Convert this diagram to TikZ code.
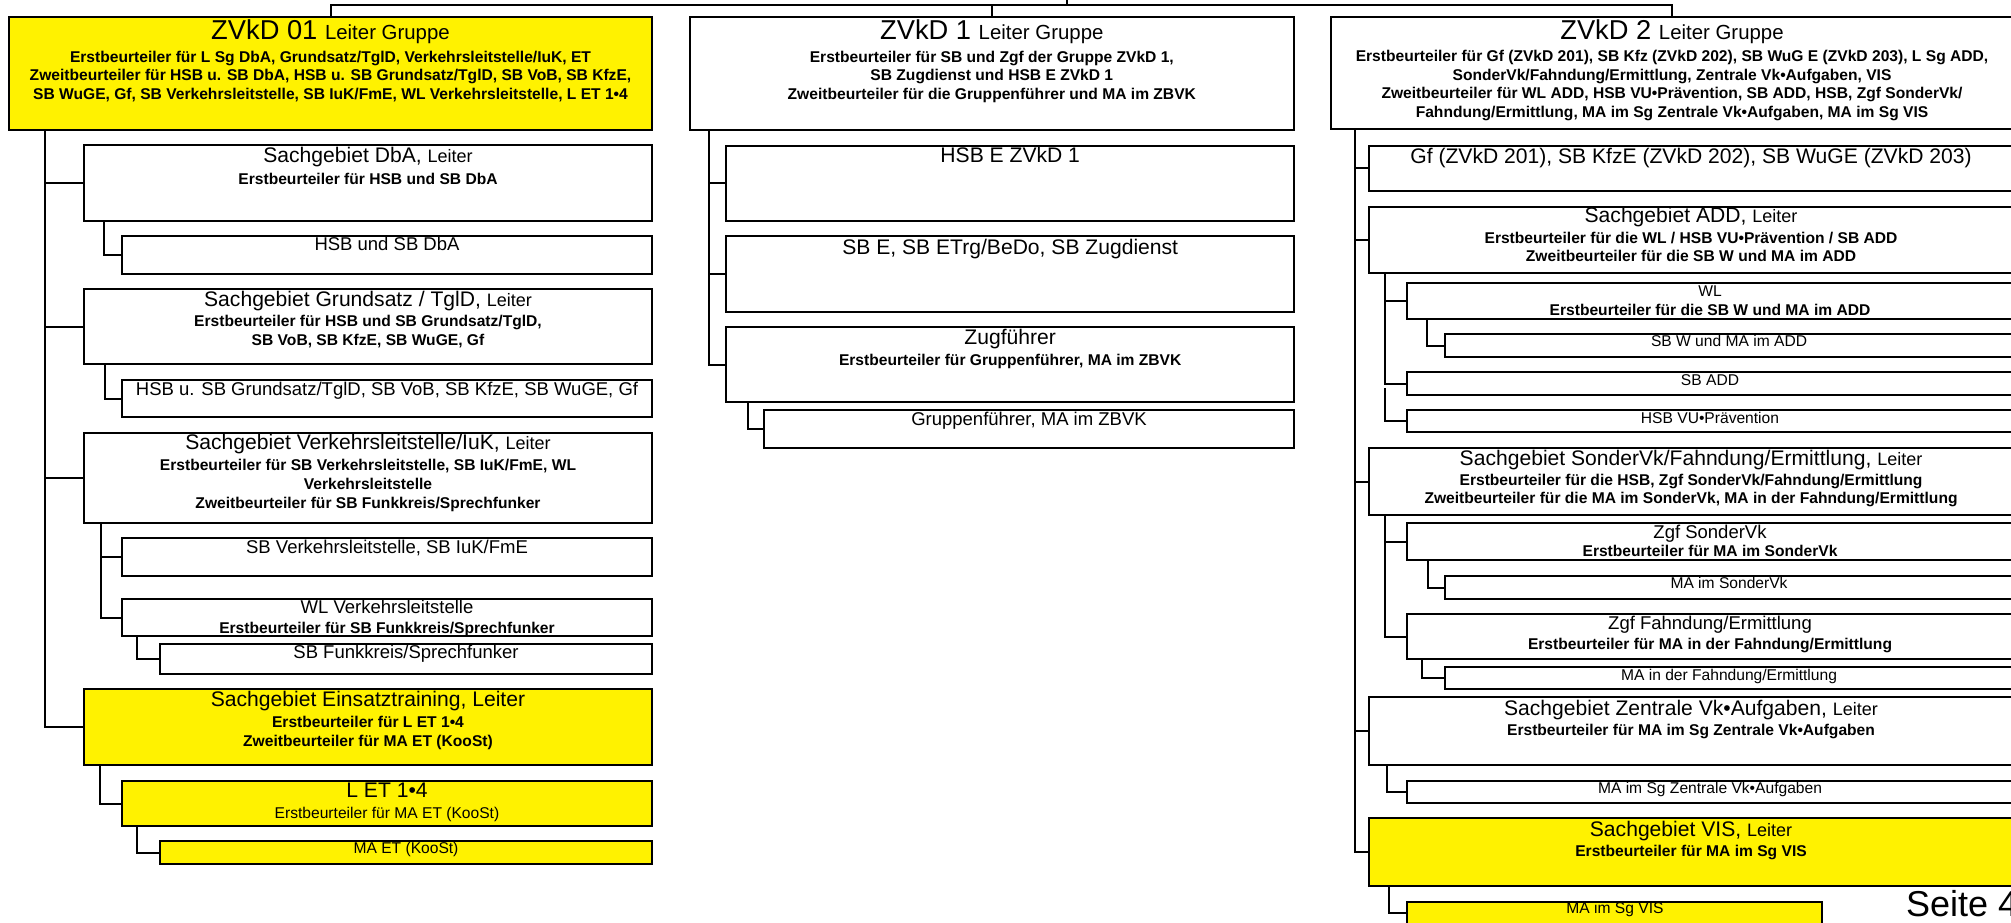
\documentclass[tikz,border=0pt]{standalone}
\usepackage{fontspec}
\setmainfont{Liberation Sans}
\usetikzlibrary{fit,calc}
\newcommand{\szBig}{\fontsize{13.65}{16}\selectfont}
\newcommand{\szGrp}{\fontsize{10.2}{12}\selectfont}
\newcommand{\szSg}{\fontsize{10.55}{12.5}\selectfont}
\newcommand{\szLt}{\fontsize{9}{11}\selectfont}
\newcommand{\szMed}{\fontsize{9.25}{11}\selectfont}
\newcommand{\szSm}{\fontsize{7.8}{9.3}\selectfont}
\newcommand{\szBd}{\fontsize{7.8}{9.3}\selectfont\bfseries}
\newcommand{\szPg}{\fontsize{18}{21}\selectfont}
\tikzset{
  box/.style={draw, line width=1pt, inner sep=0pt, outer sep=0pt},
  ybox/.style={box, fill=yellow},
  conn/.style={line width=1pt},
  txt/.style={anchor=base, inner sep=0pt, outer sep=0pt},
}
% \OrgBox{name}{x1}{y1}{x2}{y2}{style}
\newcommand{\OrgBox}[6]{\node[#6, fit={(#2,#3) (#4,#5)}] (#1) {};}
% \Tln{name}{x}{y}{text}
\newcommand{\Tln}[4]{\node[txt] (#1) at (#2,#3) {#4};}
\begin{document}
\begin{tikzpicture}[x=0.5pt, y=-0.5pt]
\useasboundingbox (0,0) rectangle (2011,922);

% ---------------- boxes ----------------
% column 1
\OrgBox{g01}{9}{17}{652}{130}{ybox}
\OrgBox{dba}{84}{145}{652}{221}{box}
\OrgBox{dbam}{122}{236}{652}{274}{box}
\OrgBox{grund}{84}{289}{652}{364}{box}
\OrgBox{grundm}{122}{380}{652}{417}{box}
\OrgBox{vlz}{84}{433}{652}{523}{box}
\OrgBox{vlzm}{122}{538}{652}{576}{box}
\OrgBox{wlv}{122}{599}{652}{636}{box}
\OrgBox{funk}{160}{644}{652}{674}{box}
\OrgBox{et}{84}{689}{652}{765}{ybox}
\OrgBox{let}{122}{781}{652}{826}{ybox}
\OrgBox{maet}{160}{841}{652}{864}{ybox}
% column 2
\OrgBox{g1}{689.5}{17}{1294}{130}{box}
\OrgBox{hsbe}{726.4}{145.7}{1294}{221}{box}
\OrgBox{sbe}{726.4}{236}{1294}{311.7}{box}
\OrgBox{zugf}{726.4}{326.7}{1294}{402.3}{box}
\OrgBox{gruppf}{764}{410}{1294}{447.7}{box}
% column 3
\OrgBox{g2}{1331}{17}{2013}{129.3}{box}
\OrgBox{gf}{1369.4}{145.7}{2013}{190.7}{box}
\OrgBox{add}{1369.4}{206.7}{2013}{273.3}{box}
\OrgBox{wl}{1407.3}{282.7}{2013}{319}{box}
\OrgBox{sbw}{1445.2}{334.3}{2013}{356.7}{box}
\OrgBox{sbadd}{1407.3}{372}{2013}{395}{box}
\OrgBox{hsbvu}{1407.3}{410}{2013}{432.3}{box}
\OrgBox{sonder}{1369.4}{448.3}{2013}{515}{box}
\OrgBox{zgfs}{1407.3}{523.3}{2013}{560}{box}
\OrgBox{masv}{1445.2}{576}{2013}{599}{box}
\OrgBox{zgff}{1407.3}{614}{2013}{659.3}{box}
\OrgBox{mafe}{1445.2}{667.3}{2013}{689.3}{box}
\OrgBox{zentral}{1369.4}{697.3}{2013}{765}{box}
\OrgBox{mazent}{1407.3}{780.7}{2013}{802.7}{box}
\OrgBox{vis}{1369.4}{818.3}{2013}{886}{ybox}
\OrgBox{mavis}{1407.3}{901.7}{1822.4}{924}{ybox}

% ---------------- connectors ----------------
\coordinate (top) at (1067,0);
\coordinate (bus) at (1067,4.5);
\draw[conn] (top) -- (bus);
\draw[conn] (bus) -| (g01.north);
\draw[conn] (bus) -| (g1.north);
\draw[conn] (bus) -| (g2.north);
% column 1
\foreach \c in {dba,grund,vlz,et}
  \draw[conn] ($(g01.south west)+(36,0)$) |- (\c.west);
\draw[conn] ($(dba.south west)+(20,0)$) |- (dbam.west);
\draw[conn] ($(grund.south west)+(21,0)$) |- (grundm.west);
\draw[conn] ($(vlz.south west)+(17,0)$) |- (vlzm.west);
\draw[conn] ($(vlz.south west)+(17,0)$) |- (wlv.west);
\draw[conn] ($(wlv.south west)+(15,0)$) |- (funk.west);
\draw[conn] ($(et.south west)+(16,0)$) |- (let.west);
\draw[conn] ($(let.south west)+(15,0)$) |- (maet.west);
% column 2
\foreach \c in {hsbe,sbe,zugf}
  \draw[conn] ($(g1.south west)+(19.5,0)$) |- (\c.west);
\draw[conn] ($(zugf.south west)+(21.6,0)$) |- (gruppf.west);
% column 3
\foreach \c in {gf,add,sonder,zentral,vis}
  \draw[conn] ($(g2.south west)+(23.5,0)$) |- (\c.west);
\draw[conn] ($(add.south west)+(15.8,0)$) |- (wl.west);
\draw[conn] ($(add.south west)+(15.8,0)$) |- (sbadd.west);
\coordinate (addgap) at (1385.2,388);
\draw[conn] (addgap) |- (hsbvu.west);
\draw[conn] ($(wl.south west)+(19.3,0)$) |- (sbw.west);
\draw[conn] ($(sonder.south west)+(15.8,0)$) |- (zgfs.west);
\draw[conn] ($(sonder.south west)+(15.8,0)$) |- (zgff.west);
\draw[conn] ($(zgfs.south west)+(20.7,0)$) |- (masv.west);
\draw[conn] ($(zgff.south west)+(14.9,0)$) |- (mafe.west);
\draw[conn] ($(zentral.south west)+(17.6,0)$) |- (mazent.west);
\draw[conn] ($(vis.south west)+(19.8,0)$) |- (mavis.west);

% ---------------- texts: column 1 ----------------
\Tln{t01a}{330.5}{39.5}{\szBig ZVkD 01 \szGrp Leiter Gruppe}
\Tln{t01b}{330.5}{62}{\szBd Erstbeurteiler für L Sg DbA, Grundsatz/TglD, Verkehrsleitstelle/IuK, ET}
\Tln{t01c}{330.5}{80.6}{\szBd Zweitbeurteiler für HSB u. SB DbA, HSB u. SB Grundsatz/TglD, SB VoB, SB KfzE,}
\Tln{t01d}{330.5}{99.2}{\szBd SB WuGE, Gf, SB Verkehrsleitstelle, SB IuK/FmE, WL Verkehrsleitstelle, L ET 1•4}

\Tln{tdbaa}{368}{162.5}{\szSg Sachgebiet DbA, \szLt Leiter}
\Tln{tdbab}{368}{184}{\szBd Erstbeurteiler für HSB und SB DbA}
\Tln{tdbam}{387}{250.5}{\szMed HSB und SB DbA}

\Tln{tgra}{368}{306}{\szSg Sachgebiet Grundsatz / TglD, \szLt Leiter}
\Tln{tgrb}{368}{326.7}{\szBd Erstbeurteiler für HSB und SB Grundsatz/TglD,}
\Tln{tgrc}{368}{345.2}{\szBd SB VoB, SB KfzE, SB WuGE, Gf}
\Tln{tgrm}{387}{395}{\szMed HSB u. SB Grundsatz/TglD, SB VoB, SB KfzE, SB WuGE, Gf}

\Tln{tvla}{368}{449.5}{\szSg Sachgebiet Verkehrsleitstelle/IuK, \szLt Leiter}
\Tln{tvlb}{368}{470}{\szBd Erstbeurteiler für SB Verkehrsleitstelle, SB IuK/FmE, WL}
\Tln{tvlc}{368}{489}{\szBd Verkehrsleitstelle}
\Tln{tvld}{368}{508}{\szBd Zweitbeurteiler für SB Funkkreis/Sprechfunker}
\Tln{tvlm}{387}{553.3}{\szMed SB Verkehrsleitstelle, SB IuK/FmE}

\Tln{twlva}{387}{613.5}{\szMed WL Verkehrsleitstelle}
\Tln{twlvb}{387}{633.3}{\szBd Erstbeurteiler für SB Funkkreis/Sprechfunker}
\Tln{tfunk}{406}{658.5}{\szMed SB Funkkreis/Sprechfunker}

\Tln{teta}{368}{706}{\szSg Sachgebiet Einsatztraining, Leiter}
\Tln{tetb}{368}{727.7}{\szBd Erstbeurteiler für L ET 1•4}
\Tln{tetc}{368}{746.7}{\szBd Zweitbeurteiler für MA ET (KooSt)}
\Tln{tleta}{387}{797}{\szSg L ET 1•4}
\Tln{tletb}{387}{818.3}{\szSm Erstbeurteiler für MA ET (KooSt)}
\Tln{tmaet}{406}{853.3}{\szSm MA ET (KooSt)}

% ---------------- texts: column 2 ----------------
\Tln{t1a}{991.8}{39.5}{\szBig ZVkD 1 \szGrp Leiter Gruppe}
\Tln{t1b}{991.8}{62}{\szBd Erstbeurteiler für SB und Zgf der Gruppe ZVkD 1,}
\Tln{t1c}{991.8}{80.6}{\szBd SB Zugdienst und HSB E ZVkD 1}
\Tln{t1d}{991.8}{99.2}{\szBd Zweitbeurteiler für die Gruppenführer und MA im ZBVK}
\Tln{thsbe}{1010.2}{162.7}{\szSg HSB E ZVkD 1}
\Tln{tsbe}{1010.2}{254}{\szSg SB E, SB ETrg/BeDo, SB Zugdienst}
\Tln{tzugfa}{1010.2}{344}{\szSg Zugführer}
\Tln{tzugfb}{1010.2}{365}{\szBd Erstbeurteiler für Gruppenführer, MA im ZBVK}
\Tln{tgruppf}{1029}{425}{\szMed Gruppenführer, MA im ZBVK}

% ---------------- texts: column 3 ----------------
\Tln{t2a}{1672}{39.5}{\szBig ZVkD 2 \szGrp Leiter Gruppe}
\Tln{t2b}{1672}{61.7}{\szBd Erstbeurteiler für Gf (ZVkD 201), SB Kfz (ZVkD 202), SB WuG E (ZVkD 203), L Sg ADD,}
\Tln{t2c}{1672}{80.3}{\szBd SonderVk/Fahndung/Ermittlung, Zentrale Vk•Aufgaben, VIS}
\Tln{t2d}{1672}{98.9}{\szBd Zweitbeurteiler für WL ADD, HSB VU•Prävention, SB ADD, HSB, Zgf SonderVk/}
\Tln{t2e}{1672}{117.5}{\szBd Fahndung/Ermittlung, MA im Sg Zentrale Vk•Aufgaben, MA im Sg VIS}
\Tln{tgf}{1691}{163.3}{\szSg Gf (ZVkD 201), SB KfzE (ZVkD 202), SB WuGE (ZVkD 203)}
\Tln{tadda}{1691}{222.7}{\szSg Sachgebiet ADD, \szLt Leiter}
\Tln{taddb}{1691}{243.3}{\szBd Erstbeurteiler für die WL / HSB VU•Prävention / SB ADD}
\Tln{taddc}{1691}{261.7}{\szBd Zweitbeurteiler für die SB W und MA im ADD}
\Tln{twla}{1710}{296.7}{\szSm WL}
\Tln{twlb}{1710}{315}{\szBd Erstbeurteiler für die SB W und MA im ADD}
\Tln{tsbw}{1729}{346.7}{\szSm SB W und MA im ADD}
\Tln{tsbadd}{1710}{385}{\szSm SB ADD}
\Tln{thsbvu}{1710}{423.3}{\szSm HSB VU•Prävention}
\Tln{tsona}{1691}{465}{\szSg Sachgebiet SonderVk/Fahndung/Ermittlung, \szLt Leiter}
\Tln{tsonb}{1691}{485}{\szBd Erstbeurteiler für die HSB, Zgf SonderVk/Fahndung/Ermittlung}
\Tln{tsonc}{1691}{503.3}{\szBd Zweitbeurteiler für die MA im SonderVk, MA in der Fahndung/Ermittlung}
\Tln{tzgfsa}{1710}{538.3}{\szMed Zgf SonderVk}
\Tln{tzgfsb}{1710}{556.7}{\szBd Erstbeurteiler für MA im SonderVk}
\Tln{tmasv}{1729}{588.3}{\szSm MA im SonderVk}
\Tln{tzgffa}{1710}{629.3}{\szMed Zgf Fahndung/Ermittlung}
\Tln{tzgffb}{1710}{649.3}{\szBd Erstbeurteiler für MA in der Fahndung/Ermittlung}
\Tln{tmafe}{1729}{680}{\szSm MA in der Fahndung/Ermittlung}
\Tln{tzena}{1691}{715}{\szSg Sachgebiet Zentrale Vk•Aufgaben, \szLt Leiter}
\Tln{tzenb}{1691}{735}{\szBd Erstbeurteiler für MA im Sg Zentrale Vk•Aufgaben}
\Tln{tmazent}{1710}{793.3}{\szSm MA im Sg Zentrale Vk•Aufgaben}
\Tln{tvisa}{1691}{836}{\szSg Sachgebiet VIS, \szLt Leiter}
\Tln{tvisb}{1691}{856}{\szBd Erstbeurteiler für MA im Sg VIS}
\Tln{tmavis}{1615}{913.3}{\szSm MA im Sg VIS}

\node[txt, anchor=base west] (seite) at (1906,916.7) {\szPg Seite 4};
\end{tikzpicture}
\end{document}
